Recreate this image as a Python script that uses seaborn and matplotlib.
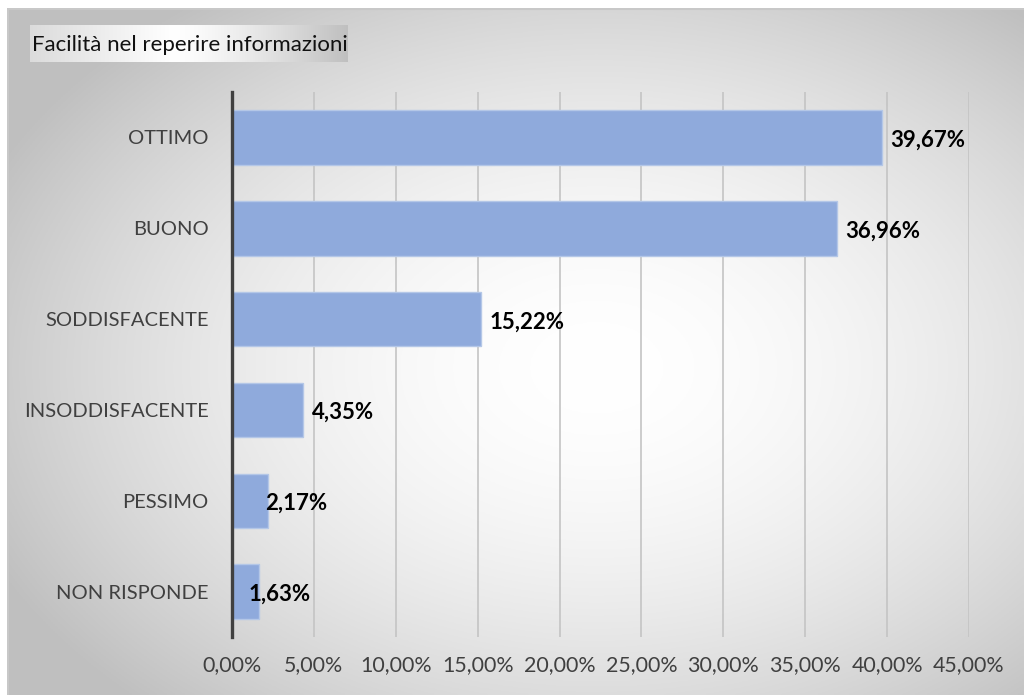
import numpy as np
import pandas as pd
import matplotlib
matplotlib.use("Agg")
import matplotlib.pyplot as plt
from matplotlib.ticker import FuncFormatter, MultipleLocator
import seaborn as sns

# Survey answers and their shares (%)
categories = ["OTTIMO", "BUONO", "SODDISFACENTE", "INSODDISFACENTE", "PESSIMO", "NON RISPONDE"]
shares = [39.67, 36.96, 15.22, 4.35, 2.17, 1.63]
title = "Facilità nel reperire informazioni"

sns.set_theme(style="white")
plt.rcParams["font.family"] = ["Lato", "DejaVu Sans"]

W, H = 1024, 695
fig = plt.figure(figsize=(W / 100, H / 100), dpi=100)
fig.patch.set_facecolor("white")

# Chart area with a soft radial gradient
x0, y0 = 7, 8
bg_ax = fig.add_axes([x0 / W, 0, 1 - x0 / W, 1 - y0 / H])
bg_ax.set_axis_off()
gw, gh = W - x0, H - y0
xx, yy = np.meshgrid(np.linspace(0, gw, 400), np.linspace(0, gh, 300))
r = np.sqrt(((xx - 590) / 640) ** 2 + ((yy - 360) / 440) ** 2)
shade = 1 - 0.23 * np.clip(r, 0, 1.3) ** 1.8
shade = np.clip(shade, 0.75, 1)
bg_ax.imshow(np.dstack([shade] * 3), extent=[0, gw, gh, 0], aspect="auto")
bg_ax.plot([0.5, 0.5], [gh, 0.5], color="#c8c8c8", lw=1.5)
bg_ax.plot([0.5, gw], [0.5, 0.5], color="#c8c8c8", lw=1.5)
bg_ax.set_xlim(0, gw)
bg_ax.set_ylim(gh, 0)

# Title box with horizontal gradient
tb_ax = fig.add_axes([30 / W, 1 - 62 / H, 318 / W, 37 / H])
tb_ax.set_axis_off()
t = np.linspace(0, 1, 300)
tshade = np.where(t < 0.45, 0.86 + 0.14 * (t / 0.45), 1 - 0.25 * ((t - 0.45) / 0.55) ** 1.3)
tb_ax.imshow(np.dstack([np.tile(tshade, (10, 1))] * 3), extent=[0, 1, 0, 1], aspect="auto")
tb_ax.set_xlim(0, 1)
tb_ax.set_ylim(0, 1)
tb_ax.text(0.005, 0.47, title, fontsize=16, color="#111111", va="center", ha="left")

# Main bar chart
ax = fig.add_axes([232 / W, 1 - 637 / H, (969 - 232) / W, (637 - 92) / H])
ax.set_facecolor("none")
df = pd.DataFrame({"categoria": categories, "quota": shares})
sns.barplot(data=df, x="quota", y="categoria", orient="h", color="#8FAADC",
            saturation=1, width=0.6, edgecolor="#B4C7E7", linewidth=1, ax=ax, zorder=3)

ax.set_xlim(0, 45)
ax.set_ylim(len(categories) - 0.5, -0.5)
ax.xaxis.set_major_locator(MultipleLocator(5))
ax.xaxis.set_major_formatter(FuncFormatter(lambda v, p: f"{v:.2f}%".replace(".", ",")))
ax.grid(axis="x", color="#c4c4c4", lw=1.2, zorder=0)
ax.grid(axis="y", visible=False)
for side in ["top", "right", "bottom"]:
    ax.spines[side].set_visible(False)
ax.spines["left"].set_color("#404040")
ax.spines["left"].set_linewidth(2.4)
ax.spines["left"].set_zorder(4)
ax.set_xlabel("")
ax.set_ylabel("")
ax.tick_params(axis="both", length=0, labelcolor="#404040")
ax.tick_params(axis="y", labelsize=14.5, pad=17)
ax.tick_params(axis="x", labelsize=15.4, pad=13)

# Value labels next to each bar
label_offsets = [6, 6, 6, 6, -2, -7]
for i, (v, off) in enumerate(zip(shares, label_offsets)):
    ax.annotate(f"{v:.2f}%".replace(".", ","), xy=(v, i), xytext=(off, -2),
                textcoords="offset points", ha="left", va="center",
                fontsize=16, fontweight="bold", color="black", zorder=5)

fig.savefig("out.png", dpi=100)
